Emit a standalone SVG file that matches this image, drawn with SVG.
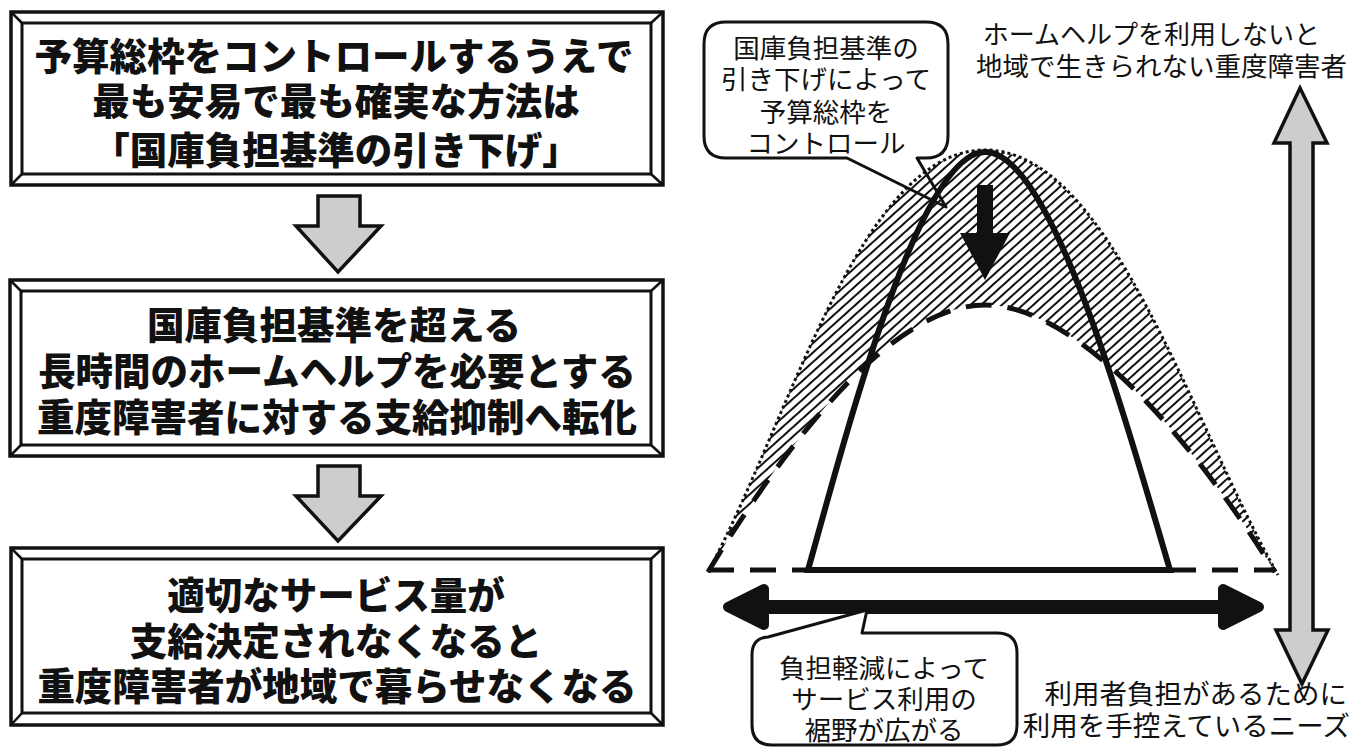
<svg xmlns="http://www.w3.org/2000/svg" width="1354" height="751" viewBox="0 0 1354 751">
<defs>
<style>
.frame{fill:#fff;stroke:#111;stroke-width:3.5}
.inner{fill:none;stroke:#111;stroke-width:3}
.diag{stroke:#111;stroke-width:2.5}
.bt{font-family:"Liberation Sans","Noto Sans CJK JP","Noto Sans CJK SC",sans-serif;font-weight:900;font-size:37.5px;fill:#111;text-anchor:middle}
.nt{font-family:"Liberation Sans","Noto Sans CJK JP","Noto Sans CJK SC",sans-serif;font-weight:400;font-size:26.5px;fill:#111}
.garrow{fill:#cdcdcd;stroke:#111;stroke-width:3.5;stroke-linejoin:miter}
.bubble{fill:#fff;stroke:#111;stroke-width:3;stroke-linejoin:round}
</style>
<pattern id="hatch" width="7" height="7" patternUnits="userSpaceOnUse" patternTransform="rotate(48)">
<line x1="1" y1="0" x2="1" y2="7" stroke="#111" stroke-width="2"/>
</pattern>
</defs>
<rect width="1354" height="751" fill="#fff"/>

<g id="box1">
<rect class="frame" x="11" y="12" width="652" height="173"/>
<rect class="inner" x="22" y="23" width="629" height="151"/>
<line class="diag" x1="11" y1="12" x2="22" y2="23"/><line class="diag" x1="663" y1="12" x2="651" y2="23"/>
<line class="diag" x1="11" y1="185" x2="22" y2="174"/><line class="diag" x1="663" y1="185" x2="651" y2="174"/>
<text class="bt" x="334" y="70">予算総枠をコントロールするうえで</text>
<text class="bt" x="336" y="115">最も安易で最も確実な方法は</text>
<text class="bt" x="336" y="164">「国庫負担基準の引き下げ」</text>
</g>

<g id="box2">
<rect class="frame" x="10" y="280" width="653" height="176"/>
<rect class="inner" x="21" y="291" width="630" height="154"/>
<line class="diag" x1="10" y1="280" x2="21" y2="291"/><line class="diag" x1="663" y1="280" x2="651" y2="291"/>
<line class="diag" x1="10" y1="456" x2="21" y2="445"/><line class="diag" x1="663" y1="456" x2="651" y2="445"/>
<text class="bt" x="334" y="339">国庫負担基準を超える</text>
<text class="bt" x="337" y="385">長時間のホームヘルプを必要とする</text>
<text class="bt" x="337" y="431">重度障害者に対する支給抑制へ転化</text>
</g>

<g id="box3">
<rect class="frame" x="11" y="548" width="652" height="177"/>
<rect class="inner" x="22" y="559" width="629" height="154"/>
<line class="diag" x1="11" y1="548" x2="22" y2="559"/><line class="diag" x1="663" y1="548" x2="651" y2="559"/>
<line class="diag" x1="11" y1="725" x2="22" y2="713"/><line class="diag" x1="663" y1="725" x2="651" y2="713"/>
<text class="bt" x="336" y="609">適切なサービス量が</text>
<text class="bt" x="336" y="655">支給決定されなくなると</text>
<text class="bt" x="337" y="700">重度障害者が地域で暮らせなくなる</text>
</g>

<g id="connectors">
<polygon class="garrow" points="318,196 360,196 360,226 381,226 338,272 296,226 318,226"/>
<polygon class="garrow" points="318,466 360,466 360,496 381,496 338,541 296,496 318,496"/>
</g>

<g id="callout-top">
<path class="bubble" d="M847,158 L726,158 Q704,158 704,136 L704,44 Q704,22 726,22 L926,22 Q948,22 948,44 L948,136 Q948,158 926,158 L917,158 L946,207 Z"/>
<text class="nt" x="826" y="58" text-anchor="middle">国庫負担基準の</text>
<text class="nt" x="826" y="89" text-anchor="middle">引き下げによって</text>
<text class="nt" x="826" y="122" text-anchor="middle">予算総枠を</text>
<text class="nt" x="826" y="153" text-anchor="middle">コントロール</text>
</g>

<g id="curves">
<path d="M708,572 C790,420 860,150 985,150 C1110,150 1190,420 1278,575 L1275,572 C1180,420 1070,305 985,305 C900,305 800,420 708,572 Z" fill="url(#hatch)"/>
<path d="M708,572 C790,420 860,150 985,150 C1110,150 1190,420 1278,575" fill="none" stroke="#111" stroke-width="3" stroke-dasharray="3 3"/>
<path d="M708,572 C800,420 900,305 985,305 C1070,305 1180,420 1275,572" fill="none" stroke="#111" stroke-width="5" stroke-dasharray="26 16"/>
<path d="M708,570 L808,570 M1170,570 L1275,570" fill="none" stroke="#111" stroke-width="5" stroke-dasharray="26 16"/>
<path d="M808,570 C850,420 920,152 985,152 C1050,152 1120,400 1170,570 Z" fill="none" stroke="#111" stroke-width="6" stroke-linejoin="miter"/>
<rect x="977" y="185" width="16" height="52" fill="#111"/>
<polygon points="960,233 1010,233 985,280" fill="#111"/>
</g>

<g id="arrow-horizontal">
<line x1="750" y1="607" x2="1235" y2="607" stroke="#111" stroke-width="14"/>
<polygon points="728,607 764,589 764,625" fill="#111" stroke="#111" stroke-width="10" stroke-linejoin="round"/>
<polygon points="1259,607 1223,589 1223,625" fill="#111" stroke="#111" stroke-width="10" stroke-linejoin="round"/>
</g>

<g id="arrow-vertical">
<polygon class="garrow" points="1300,88 1327,143 1313,143 1313,630 1328,630 1302,684 1276,630 1290,630 1290,143 1274,143"/>
</g>

<g id="callout-bottom">
<path class="bubble" d="M862,633 L997,633 Q1017,633 1017,653 L1017,725 Q1017,745 997,745 L772,745 Q752,745 752,725 L752,655 Q752,638 768,637 L867,610 Z"/>
<text class="nt" x="884" y="678" text-anchor="middle">負担軽減によって</text>
<text class="nt" x="884" y="709" text-anchor="middle">サービス利用の</text>
<text class="nt" x="884" y="740" text-anchor="middle">裾野が広がる</text>
</g>

<g id="labels">
<text class="nt" x="1320" y="44" text-anchor="end" style="font-size:26px">ホームヘルプを利用しないと</text>
<text class="nt" x="1347" y="76" text-anchor="end" style="font-size:26.5px">地域で生きられない重度障害者</text>
<text class="nt" x="1347" y="704" text-anchor="end" style="font-size:27.5px">利用者負担があるために</text>
<text class="nt" x="1350" y="736" text-anchor="end" style="font-size:27.5px">利用を手控えているニーズ</text>
</g>
</svg>
